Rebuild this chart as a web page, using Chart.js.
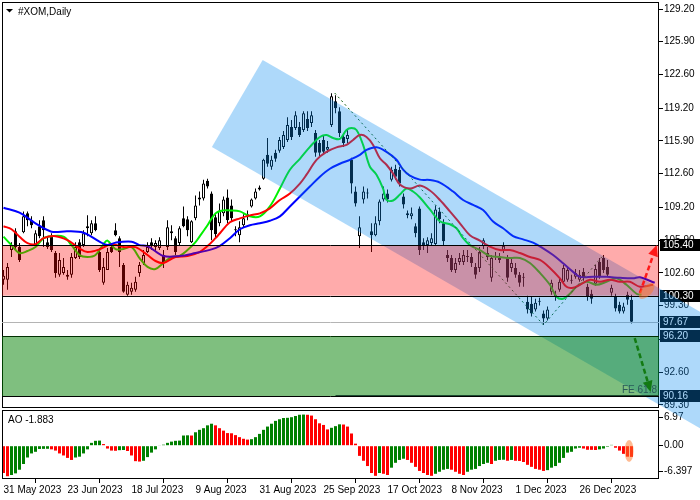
<!DOCTYPE html>
<html>
<head>
<meta charset="utf-8">
<script src="https://cdn.jsdelivr.net/npm/chart.js@4"></script>
<style>
  html, body { margin: 0; padding: 0; background: #fff; }
  #chart { display: block; }
</style>
</head>
<body>
<canvas id="chart" width="700" height="500"></canvas>
<script>
/* DATA */
// daily candles, bar 0 = 31 May 2023
const opens = [
  101.9, 101.9, 104.9, 106.8, 105.2, 106.7, 108.6, 107.9, 105.4, 107.3,
  107.9, 105.7, 106.3, 104.6, 102.4, 102.6, 102.4, 102.4, 104.1, 105.7,
  105.4, 107.1, 106.6, 107.6, 104.7, 101.6, 102.9, 105.2, 106.9, 106.1,
  103.4, 100.4, 100.7, 100.9, 102.6, 103.6, 104.7, 105.7, 105.2, 105.1,
  104.4, 105.2, 106.8, 106.1, 105.6, 108.1, 108.0, 105.7, 108.1, 110.0,
  110.1, 111.9, 110.6, 108.2, 107.6, 108.6, 110.2, 109.4, 107.0, 106.4,
  107.4, 108.2, 109.3, 110.1, 111.0, 112.1, 114.5, 113.3, 114.7, 114.9,
  115.3, 116.0, 117.3, 117.2, 117.3, 117.0, 118.1, 117.7, 116.7, 115.7,
  116.0, 115.0, 117.5, 119.9, 118.9, 116.3, 116.1, 114.0, 110.8, 106.3,
  110.0, 110.6, 106.8, 106.4, 107.8, 110.0, 110.6, 112.0, 113.1, 113.0,
  110.3, 108.6, 108.3, 107.3, 109.1, 105.7, 105.4, 105.6, 105.5, 108.8,
  107.6, 104.4, 104.1, 102.9, 103.7, 103.7, 104.3, 104.2, 103.2, 103.1,
  105.3, 104.6, 102.1, 104.2, 104.1, 104.9, 104.1, 103.1, 103.1, 102.4,
  102.2, 99.7, 99.5, 98.9, 99.7, 98.5, 98.0, 100.7, 100.4, 100.9,
  101.7, 101.9, 101.9, 102.2, 101.9, 102.7, 101.2, 100.5, 101.5, 103.7,
  104.1, 103.2, 100.6, 100.2, 99.4, 98.7, 100.4, 99.9
];
const highs = [
  102.9, 103.6, 105.7, 107.1, 105.6, 108.8, 108.8, 108.3, 106.9, 107.9,
  108.3, 106.2, 106.6, 104.8, 104.6, 104.1, 102.9, 104.6, 105.7, 106.0,
  106.9, 108.4, 107.9, 108.3, 105.1, 104.1, 105.1, 105.6, 107.6, 106.3,
  103.6, 101.7, 101.6, 102.2, 103.7, 104.9, 105.7, 106.1, 105.9, 106.2,
  104.9, 107.9, 107.4, 106.3, 107.3, 109.3, 108.3, 107.9, 110.4, 110.8,
  112.0, 112.1, 110.8, 108.5, 109.6, 110.3, 111.0, 110.0, 107.3, 107.8,
  108.5, 108.9, 110.1, 111.1, 111.4, 114.1, 116.2, 114.4, 115.0, 116.3,
  116.9, 118.3, 118.0, 118.9, 117.8, 118.9, 118.9, 118.9, 117.0, 116.0,
  116.5, 115.9, 120.7, 120.5, 119.3, 116.7, 117.0, 114.2, 111.3, 108.3,
  111.3, 111.1, 107.6, 108.3, 110.0, 111.3, 111.0, 113.3, 113.5, 113.3,
  110.6, 108.9, 109.2, 107.6, 109.3, 106.1, 106.2, 106.6, 109.4, 109.2,
  108.0, 104.9, 104.4, 104.1, 104.6, 104.9, 104.9, 104.6, 103.6, 105.2,
  106.1, 105.2, 104.4, 104.7, 104.6, 105.7, 104.4, 104.1, 103.6, 102.7,
  102.6, 100.3, 100.2, 100.0, 100.1, 98.8, 99.2, 101.9, 100.8, 102.1,
  103.4, 103.2, 102.4, 103.0, 102.9, 103.1, 101.5, 100.9, 103.4, 104.1,
  104.4, 103.9, 101.4, 100.5, 99.7, 99.6, 100.7, 100.4
];
const lows = [
  101.4, 100.9, 104.2, 105.0, 103.7, 106.6, 107.3, 107.1, 105.2, 106.1,
  105.2, 105.0, 104.7, 102.1, 102.2, 102.4, 101.9, 102.1, 104.0, 104.0,
  105.2, 106.3, 106.4, 106.8, 102.7, 101.4, 102.9, 104.6, 106.3, 103.2,
  100.6, 100.3, 100.4, 100.7, 102.2, 103.4, 104.6, 104.9, 104.7, 104.9,
  103.1, 104.9, 105.9, 104.4, 105.4, 107.2, 106.3, 105.6, 107.9, 109.4,
  109.9, 111.1, 105.9, 106.2, 107.3, 108.3, 107.6, 107.8, 106.3, 105.7,
  107.2, 107.9, 109.2, 110.0, 110.9, 112.0, 113.3, 113.0, 113.8, 114.7,
  115.1, 115.8, 116.0, 117.0, 116.3, 116.8, 116.9, 117.3, 114.3, 114.3,
  114.5, 114.7, 117.3, 118.7, 116.3, 115.3, 115.7, 110.6, 109.3, 105.1,
  109.6, 110.1, 104.7, 106.3, 107.4, 109.8, 109.7, 111.8, 112.0, 111.3,
  109.1, 108.1, 108.0, 106.2, 104.4, 104.9, 104.6, 105.3, 105.3, 107.6,
  105.4, 103.7, 102.7, 102.6, 103.4, 103.4, 103.7, 103.2, 102.0, 102.7,
  105.0, 103.9, 101.7, 103.9, 103.6, 104.6, 101.7, 102.7, 102.1, 101.2,
  101.2, 98.5, 98.2, 98.7, 99.3, 97.35, 97.8, 100.4, 99.8, 100.7,
  101.5, 101.7, 101.5, 102.0, 101.7, 101.8, 99.8, 99.5, 101.3, 102.0,
  102.6, 102.2, 100.3, 98.7, 98.5, 98.5, 99.4, 97.5
];
const closes = [
  102.3, 103.2, 105.4, 105.2, 103.9, 108.3, 107.9, 107.4, 106.6, 106.3,
  106.9, 105.2, 104.9, 102.6, 103.9, 103.2, 102.2, 104.2, 105.2, 104.2,
  106.6, 107.3, 107.6, 106.9, 102.9, 103.2, 104.7, 104.7, 106.4, 104.7,
  100.7, 101.4, 101.1, 101.7, 103.4, 104.4, 105.2, 105.4, 105.6, 105.9,
  103.6, 107.2, 106.6, 104.7, 107.1, 107.3, 106.9, 107.8, 109.4, 110.2,
  111.6, 111.3, 106.9, 106.5, 108.9, 110.0, 107.9, 108.1, 106.9, 107.2,
  108.1, 108.5, 110.0, 110.8, 111.2, 114.0, 113.6, 114.0, 114.1, 116.0,
  116.5, 117.5, 116.3, 118.5, 116.5, 118.7, 117.2, 118.5, 114.7, 114.7,
  114.8, 115.3, 120.4, 119.2, 116.7, 115.7, 116.5, 111.6, 109.6, 107.2,
  110.8, 110.7, 106.4, 107.6, 109.8, 110.6, 110.0, 113.0, 112.3, 111.6,
  109.5, 108.4, 108.6, 106.6, 104.9, 105.4, 105.9, 106.1, 109.0, 108.0,
  105.8, 104.1, 102.9, 103.6, 104.1, 104.4, 104.2, 103.6, 102.4, 104.7,
  105.9, 104.2, 104.1, 104.3, 103.9, 105.3, 102.1, 103.6, 102.4, 101.6,
  102.1, 98.9, 98.5, 99.6, 99.8, 98.0, 98.9, 101.6, 100.2, 101.7,
  103.1, 102.9, 101.8, 102.6, 102.4, 102.1, 100.2, 100.0, 103.0, 102.2,
  102.9, 102.4, 101.1, 99.0, 98.7, 99.2, 99.9, 97.67
];

// alligator lines as [bar index, price]
const jawLine = [
  [0, 109.17], [4, 108.67], [8, 107.6], [12, 106.75], [16, 106.8], [20, 106.65],
  [24, 105.75], [26, 105.4], [28, 105.65], [32, 105.75], [34, 105.4], [36, 105.3],
  [40, 104.3], [44, 104.3], [48, 104.6], [52, 104.97], [54, 105.3], [56.6, 106.1],
  [59.1, 107.0], [61.6, 107.4], [64.1, 107.6], [66.6, 107.85], [69.1, 108.3],
  [71.6, 109.3], [74.1, 110.3], [76.6, 111.3], [79.1, 112.3], [81.6, 113.1],
  [84.1, 113.6], [86.6, 114.0], [89.1, 114.5], [90.75, 115.0], [93.25, 115.26],
  [95.75, 114.8], [98.25, 114.0], [99.9, 113.0], [101.6, 112.4], [104.1, 112.0],
  [106.6, 111.96], [109.1, 111.7], [112.4, 110.8], [114.9, 109.95], [117.4, 109.45],
  [119.9, 108.94], [122.4, 107.77], [124.9, 107.1], [127.4, 106.3], [129.9, 105.98],
  [132.4, 105.65], [134.9, 105.08], [137.4, 104.4], [139.9, 103.57], [142.4, 102.7],
  [144.1, 102.2], [147.4, 102.2], [150.75, 102.2], [154.1, 102.1], [157.4, 102.05],
  [159.1, 102.15], [162.8, 101.6]
];
const teethLine = [
  [0, 107.3], [2, 107.0], [4, 106.25], [6, 105.6], [8, 105.5], [10, 106.1],
  [13, 106.3], [16, 105.9], [19, 105.07], [21, 104.7], [24, 104.97], [27, 105.5],
  [30, 105.2], [33, 105.2], [36, 104.4], [38, 103.8], [40, 103.6], [43, 104.2],
  [46, 104.3], [49, 104.7], [51, 105.3], [53, 106.1], [54.1, 106.6], [56.6, 107.7],
  [59.1, 108.1], [61.6, 108.4], [64.1, 108.6], [66.6, 109.1], [69.1, 109.95],
  [71.6, 110.6], [74.1, 111.6], [75.75, 112.5], [78.25, 114.0], [80.75, 114.8],
  [83.25, 115.25], [85.75, 115.5], [87.4, 116.0], [89.1, 116.5], [90.75, 116.3],
  [92.4, 115.5], [94.1, 114.15], [95.75, 113.5], [97.4, 112.6], [99.1, 111.5],
  [101.6, 111.1], [104.1, 111.4], [106.6, 110.9], [109.1, 109.95], [111.6, 108.8],
  [114.1, 107.6], [116.6, 106.4], [119.1, 105.85], [121.6, 105.25], [124.1, 104.9],
  [126.6, 104.9], [129.1, 104.6], [131.6, 104.2], [134.1, 103.9], [136.6, 103.1],
  [139.1, 102.05], [140.75, 101.2], [142.4, 101.1], [144.1, 101.4], [146.6, 101.9],
  [149.1, 101.7], [151.6, 101.9], [154.1, 101.7], [156.6, 101.7], [159.1, 101.2],
  [162.4, 101.4]
];
const lipsLine = [
  [0, 106.25], [2, 105.4], [4, 104.6], [6, 104.8], [8, 105.2], [10, 106.1],
  [12, 106.3], [15, 106.25], [17, 105.4], [19, 104.4], [21, 104.2], [23, 104.4],
  [25, 105.5], [26, 105.85], [28, 105.0], [30, 105.0], [32, 105.2], [34, 104.1],
  [36, 103.2], [38, 103.0], [40, 103.6], [42, 104.2], [44, 104.3], [46, 104.9],
  [48, 105.7], [49, 106.25], [51, 107.4], [53, 108.6], [55, 108.9], [56.6, 108.9],
  [59.1, 108.8], [61.6, 108.3], [64.1, 108.3], [66.6, 109.3], [69.1, 111.1],
  [71.6, 113.0], [74.1, 114.1], [76.6, 115.3], [79.1, 116.3], [80.75, 116.5],
  [82.4, 116.2], [84.1, 116.1], [85.75, 117.0], [87, 117.2], [88.25, 117.0],
  [89.9, 115.5], [91.6, 113.3], [93.25, 112.5], [94.9, 111.1], [95.75, 109.95],
  [97.4, 109.9], [99.1, 110.5], [100.75, 111.1], [102.4, 110.8], [104.1, 110.2],
  [106.6, 109.0], [109.1, 107.8], [111.6, 107.5], [113.25, 107.1], [114.9, 106.1],
  [116.6, 105.4], [119.1, 104.9], [121.6, 104.3], [124.1, 104.2], [126.6, 104.1],
  [129.1, 104.1], [131.6, 103.6], [134.1, 102.6], [136.6, 101.4], [138.25, 100.2],
  [139.9, 100.0], [141.6, 100.5], [143.25, 101.2], [145.75, 101.7], [148.25, 101.4],
  [150.75, 101.7], [153.25, 102.05], [155.75, 101.4], [158.25, 100.5], [159.5, 100.4]
];

// awesome oscillator, one value per bar
const aoValues = [
  -6.7, -7.5, -7.2, -6.8, -5.9, -4.5, -2.9, -1.9, -1.5, -0.8,
  -0.78, -0.76, -0.9, -1.2, -1.9, -2.4, -3.0, -3.5, -2.9, -2.7,
  -1.9, -0.9, 0.7, 1.2, 1.25, 0.4, -0.7, -1.2, -1.25, -1.1,
  -1.05, -1.3, -2.4, -3.8, -3.9, -3.7, -2.8, -1.7, -0.9, 0.1,
  0.25, 0.7, 1.0, 1.2, 1.25, 2.5, 2.55, 2.5, 3.3, 3.9,
  4.3, 5.0, 5.4, 5.0, 4.3, 3.7, 3.1, 3.05, 2.6, 2.1,
  1.7, 1.5, 1.6, 2.1, 2.9, 3.9, 4.7, 5.4, 6.1, 6.5,
  6.8, 6.85, 7.0, 7.3, 7.6, 7.65, 7.6, 7.4, 6.5, 5.5,
  5.1, 4.0, 4.4, 4.8, 5.25, 5.2, 4.7, 3.0, 0.5, -2.5,
  -3.7, -5.0, -6.7, -7.4, -6.7, -6.9, -7.2, -5.4, -4.2, -3.5,
  -3.2, -3.5, -4.2, -5.2, -6.2, -6.7, -7.2, -7.4, -6.9, -6.4,
  -5.9, -5.7, -5.9, -6.4, -6.9, -7.2, -6.4, -5.9, -5.7, -5.0,
  -4.5, -4.2, -4.5, -3.7, -3.5, -3.45, -3.7, -3.5, -3.7, -3.75,
  -4.0, -4.7, -5.2, -5.7, -5.9, -6.2, -6.0, -5.4, -5.0, -4.2,
  -3.0, -1.7, -1.5, -0.7, -0.5, -0.7, -1.0, -1.02, -1.05, -0.9,
  -0.7, -0.25, 0.2, -0.5, -1.2, -2.0, -2.7, -2.75
];

// axis ticks
const priceTicks = [129.2, 125.9, 122.6, 119.2, 115.9, 112.6, 109.2, 105.9, 102.6, 99.3, 95.9, 92.6, 89.3];
const aoTicks = [6.97, 0, -6.397];
const aoTickLabels = ["6.97", "0.00", "-6.397"];
const dateTickIdx = [0, 16, 32, 48, 64, 80, 96, 112, 128, 144];
const dateTickLabels = ["31 May 2023", "23 Jun 2023", "18 Jul 2023", "9 Aug 2023", "31 Aug 2023",
  "25 Sep 2023", "17 Oct 2023", "8 Nov 2023", "1 Dec 2023", "26 Dec 2023"];

// drawn objects (bar index / price)
const resistance = 105.4;
const support = 100.3;
const lastPrice = 97.67;
const targetTop = 96.2;
const targetBottom = 90.16;
const feLevel = 90.3;
const feStartBar = 83;
const channelCorners = [[64.8, 124.06], [52.1, 115.29], [175.3, 86.66], [188.1, 95.43]];
const fePath = [[82.8, 120.73], [135, 97.35], [150, 104.4]];
const upArrow = [[159.1, 100.57], [163.3, 105.4]];
const downArrow = [[157.8, 96.03], [161.8, 90.6]];
const markPrices = [105.4, 100.3, 97.67, 96.2, 90.16];
const aoLast = -1.883;

/* CHART */
Chart.defaults.font.family = "'Liberation Sans', Arial, sans-serif";
Chart.defaults.font.size = 10;
Chart.defaults.color = "#000";

const FONT = "10px 'Liberation Sans', Arial, sans-serif";

function drawArrow(ctx, x1, y1, x2, y2, color) {
  const a = Math.atan2(y2 - y1, x2 - x1);
  const hl = 11, hw = 5;
  const bx = x2 - hl * Math.cos(a);
  const by = y2 - hl * Math.sin(a);
  ctx.save();
  ctx.strokeStyle = color;
  ctx.lineWidth = 2.5;
  ctx.setLineDash([5, 3]);
  ctx.beginPath();
  ctx.moveTo(x1, y1);
  ctx.lineTo(bx, by);
  ctx.stroke();
  ctx.setLineDash([]);
  ctx.fillStyle = color;
  ctx.beginPath();
  ctx.moveTo(x2, y2);
  ctx.lineTo(bx + hw * Math.sin(a), by - hw * Math.cos(a));
  ctx.lineTo(bx - hw * Math.sin(a), by + hw * Math.cos(a));
  ctx.closePath();
  ctx.fill();
  ctx.restore();
}

const overlays = {
  id: "overlays",
  afterDatasetsDraw(chart) {
    const { ctx } = chart;
    const { x, y, ao } = chart.scales;
    const X = (v) => x.getPixelForValue(v);
    const Y = (v) => y.getPixelForValue(v);
    const L = x.left, R = x.right;

    ctx.save();

    // panel frames
    ctx.strokeStyle = "#000";
    ctx.lineWidth = 1;
    ctx.strokeRect(L + 0.5, y.top + 0.5, R - L - 1, y.bottom - y.top - 1);
    ctx.strokeRect(L + 0.5, ao.top + 2.5, R - L - 1, ao.bottom - ao.top - 3);

    // current price line
    ctx.strokeStyle = "#b4b4b4";
    ctx.beginPath();
    ctx.moveTo(L, Math.round(Y(lastPrice)) + 0.5);
    ctx.lineTo(R, Math.round(Y(lastPrice)) + 0.5);
    ctx.stroke();

    // price boxes on the axis
    ctx.font = FONT;
    ctx.textBaseline = "middle";
    ctx.textAlign = "left";
    markPrices.forEach((p) => {
      const py = Math.round(Y(p));
      ctx.fillStyle = "#000";
      ctx.fillRect(R + 1, py - 6, 40, 12);
      ctx.fillStyle = "#fff";
      ctx.fillText(p.toFixed(2), R + 4, py + 0.5);
    });

    // fibo expansion path
    ctx.strokeStyle = "#0a5a0a";
    ctx.setLineDash([2, 3]);
    ctx.beginPath();
    fePath.forEach(([i, p], k) => (k ? ctx.lineTo(X(i), Y(p)) : ctx.moveTo(X(i), Y(p))));
    ctx.stroke();
    ctx.setLineDash([]);

    // down channel
    ctx.fillStyle = "rgba(10, 140, 240, 0.33)";
    ctx.beginPath();
    channelCorners.forEach(([i, p], k) => (k ? ctx.lineTo(X(i), Y(p)) : ctx.moveTo(X(i), Y(p))));
    ctx.closePath();
    ctx.fill();

    // resistance zone
    ctx.fillStyle = "rgba(255, 0, 0, 0.33)";
    ctx.fillRect(L, Y(resistance), R - L, Y(support) - Y(resistance));

    // target zone
    ctx.fillStyle = "rgba(0, 128, 0, 0.5)";
    ctx.fillRect(L, Y(targetTop), R - L, Y(targetBottom) - Y(targetTop));

    const hline = (p, color, from) => {
      const py = Math.round(Y(p)) + 0.5;
      ctx.strokeStyle = color;
      ctx.beginPath();
      ctx.moveTo(from, py);
      ctx.lineTo(R, py);
      ctx.stroke();
    };
    hline(resistance, "#000", L);
    hline(support, "#000", L);
    hline(targetTop, "#003000", L);
    hline(targetBottom, "#000", L);
    hline(feLevel, "#1c4a30", X(feStartBar));

    // forecast arrows
    drawArrow(ctx, X(upArrow[0][0]), Y(upArrow[0][1]), X(upArrow[1][0]), Y(upArrow[1][1]), "#ff1a1a");
    drawArrow(ctx, X(downArrow[0][0]), Y(downArrow[0][1]), X(downArrow[1][0]), Y(downArrow[1][1]), "#127a12");

    // highlight ellipses
    ctx.fillStyle = "rgba(255, 120, 40, 0.5)";
    ctx.beginPath();
    ctx.ellipse(X(160.8), Y(100.77), 10, 5, -0.8, 0, Math.PI * 2);
    ctx.fill();
    ctx.beginPath();
    ctx.ellipse(X(156.4), ao.getPixelForValue(-1.3), 4.5, 11, 0, 0, Math.PI * 2);
    ctx.fill();

    // texts
    ctx.font = FONT;
    ctx.textBaseline = "alphabetic";
    ctx.fillStyle = "#2a5a5a";
    ctx.textAlign = "right";
    ctx.fillText("FE 61.8", R - 2, Y(targetBottom) - 3);

    ctx.textAlign = "left";
    ctx.fillStyle = "#000";
    ctx.fillText("#XOM,Daily", L + 16, y.top + 13);
    ctx.beginPath();
    ctx.moveTo(L + 4, y.top + 7);
    ctx.lineTo(L + 11, y.top + 7);
    ctx.lineTo(L + 7.5, y.top + 10.5);
    ctx.closePath();
    ctx.fill();
    ctx.fillText("AO " + aoLast.toFixed(3), L + 6, ao.top + 15);

    ctx.restore();
  },
};

const candleBodies = opens.map((o, i) => ({ x: i, y: [o, closes[i]] }));
const candleWicks = lows.map((l, i) => ({ x: i, y: [l, highs[i]] }));
const aoBars = aoValues.map((v, i) => ({ x: i, y: v }));
const aoColors = aoValues.map((v, i) => (i > 0 && v > aoValues[i - 1] ? "#008000" : "#ff0000"));
const toPoints = (arr) => arr.map(([i, p]) => ({ x: i, y: p }));

new Chart(document.getElementById("chart"), {
  type: "bar",
  data: {
    datasets: [
      {
        type: "line", data: toPoints(jawLine), borderColor: "#0000ff", borderWidth: 2,
        pointRadius: 0, tension: 0.35, yAxisID: "y", order: 1,
      },
      {
        type: "line", data: toPoints(teethLine), borderColor: "#ff0000", borderWidth: 2,
        pointRadius: 0, tension: 0.35, yAxisID: "y", order: 1,
      },
      {
        type: "line", data: toPoints(lipsLine), borderColor: "#00f000", borderWidth: 2,
        pointRadius: 0, tension: 0.35, yAxisID: "y", order: 1,
      },
      {
        data: candleBodies, yAxisID: "y", order: 2, grouped: false,
        barThickness: 3, minBarLength: 1, inflateAmount: 0,
        backgroundColor: opens.map((o, i) => (closes[i] >= o ? "#fff" : "#000")),
        borderColor: "#000", borderWidth: 1, borderSkipped: false,
      },
      {
        data: candleWicks, yAxisID: "y", order: 3, grouped: false,
        barThickness: 1, inflateAmount: 0, backgroundColor: "#000",
      },
      {
        data: aoBars, yAxisID: "ao", order: 4, grouped: false,
        barThickness: 3, inflateAmount: 0, backgroundColor: aoColors,
      },
    ],
  },
  options: {
    responsive: false,
    animation: false,
    devicePixelRatio: 1,
    events: [],
    layout: { padding: { left: 2, top: 2, right: 0, bottom: 0 } },
    plugins: { legend: { display: false }, tooltip: { enabled: false } },
    scales: {
      x: {
        type: "linear",
        min: -0.375,
        max: 163.875,
        offset: false,
        border: { display: false },
        grid: { drawOnChartArea: false, tickLength: 4, color: "#000" },
        ticks: {
          align: "start", maxRotation: 0, autoSkip: false, padding: 1,
          callback: (v) => dateTickLabels[dateTickIdx.indexOf(v)],
        },
        afterBuildTicks: (s) => { s.ticks = dateTickIdx.map((v) => ({ value: v })); },
        afterFit: (s) => { s.height = 21; s.paddingLeft = 0; s.paddingRight = 0; },
      },
      y: {
        position: "right",
        stack: "panes",
        stackWeight: 406,
        min: 88.98,
        max: 129.906,
        border: { display: false },
        grid: { drawOnChartArea: false, tickLength: 4, color: "#000" },
        ticks: { padding: 1, callback: (v) => v.toFixed(2) },
        afterBuildTicks: (s) => { s.ticks = priceTicks.map((v) => ({ value: v })); },
        afterFit: (s) => { s.width = 41; s.paddingTop = 0; s.paddingBottom = 0; },
      },
      ao: {
        position: "right",
        stack: "panes",
        stackWeight: 71,
        min: -8.18,
        max: 9.26,
        border: { display: false },
        grid: { drawOnChartArea: false, tickLength: 4, color: "#000" },
        ticks: { padding: 1, callback: (v) => aoTickLabels[aoTicks.indexOf(v)] },
        afterBuildTicks: (s) => { s.ticks = aoTicks.map((v) => ({ value: v })); },
        afterFit: (s) => { s.width = 41; s.paddingTop = 0; s.paddingBottom = 0; },
      },
    },
  },
  plugins: [overlays],
});
</script>
</body>
</html>
